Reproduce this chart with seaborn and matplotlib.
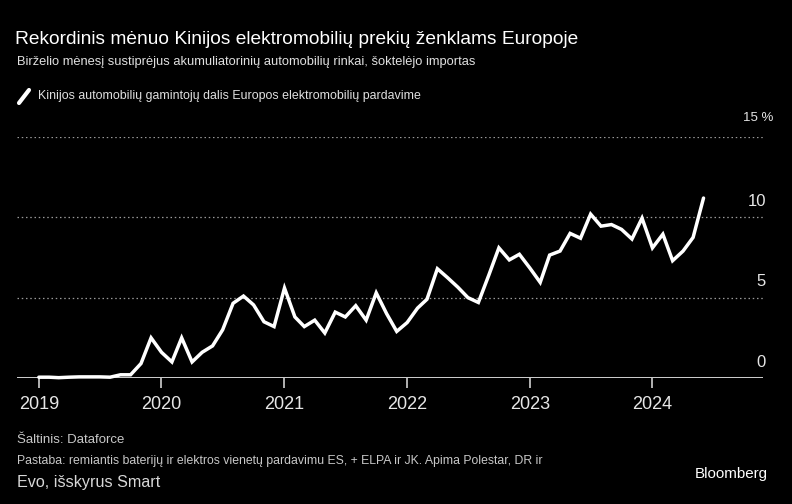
import pandas as pd
import matplotlib.pyplot as plt
import seaborn as sns
from matplotlib.lines import Line2D

# Monthly share (%) of Chinese brands in European EV sales, Jan 2019 - Jun 2024
share_2019 = [0.05, 0.05, 0.02, 0.05, 0.07, 0.07, 0.07, 0.05, 0.2, 0.2, 0.9, 2.5]
share_2020 = [1.6, 1.0, 2.5, 1.0, 1.6, 2.0, 3.0, 4.65, 5.1, 4.55, 3.5, 3.2]
share_2021 = [5.6, 3.8, 3.2, 3.6, 2.8, 4.1, 3.8, 4.5, 3.6, 5.3, 4.0, 2.9]
share_2022 = [3.45, 4.35, 4.9, 6.8, 6.25, 5.65, 5.0, 4.7, 6.4, 8.1, 7.35, 7.7]
share_2023 = [6.85, 5.95, 7.65, 7.9, 9.0, 8.7, 10.2, 9.45, 9.55, 9.25, 8.65, 9.95]
share_2024 = [8.1, 8.95, 7.3, 7.9, 8.75, 11.2]

months = pd.date_range("2019-01-01", "2024-06-01", freq="MS")
share = share_2019 + share_2020 + share_2021 + share_2022 + share_2023 + share_2024
df = pd.DataFrame({"month": months, "share": share})

year_ticks = ["2019", "2020", "2021", "2022", "2023", "2024"]
y_ticks = [0, 5, 10, 15]
y_labels = ["0", "5", "10", "15 %"]

title = "Rekordinis mėnuo Kinijos elektromobilių prekių ženklams Europoje"
subtitle = "Birželio mėnesį sustiprėjus akumuliatorinių automobilių rinkai, šoktelėjo importas"
legend_label = "Kinijos automobilių gamintojų dalis Europos elektromobilių pardavime"

sns.set_theme(style="dark")
plt.rcParams["font.family"] = ["Liberation Sans", "DejaVu Sans"]

fig = plt.figure(figsize=(7.92, 5.04), dpi=100, facecolor="black")
ax = fig.add_axes([17 / 792, 126 / 504, 746 / 792, 241 / 504])
ax.set_facecolor("black")

sns.lineplot(data=df, x="month", y="share", ax=ax, color="white",
             linewidth=2.5, clip_on=False, solid_joinstyle="miter")

ax.set_xlim(pd.Timestamp("2018-10-28"), pd.Timestamp("2024-11-25"))
ax.set_ylim(0, 15)

# dotted gridlines + solid baseline
for v in y_ticks[1:]:
    ax.axhline(v, color="#9a9a9a", linestyle=(0, (1.2, 2.2)), linewidth=0.9, zorder=0)
ax.axhline(0, color="#d0d0d0", linewidth=1.4, zorder=1)

for s in ax.spines.values():
    s.set_visible(False)
ax.grid(False)

ax.set_xticks([pd.Timestamp(y + "-01-01") for y in year_ticks])
ax.set_xticklabels(year_ticks)
ax.tick_params(axis="x", colors="#d0d0d0", length=7, width=1.2, direction="out",
               labelsize=13, labelcolor="#e6e6e6", pad=6, bottom=True)
ax.set_yticks([])
ax.set_xlabel("")
ax.set_ylabel("")

# right-hand value labels, sitting above the gridlines
for v, lab in zip(y_ticks[:-1], y_labels[:-1]):
    ax.annotate(lab, xy=(1.0, v), xycoords=("axes fraction", "data"),
                xytext=(2, 6), textcoords="offset points", ha="right", va="bottom",
                color="#e6e6e6", fontsize=12)
ax.annotate(y_labels[-1], xy=(1.0, y_ticks[-1]), xycoords=("axes fraction", "data"),
            xytext=(7.5, 9), textcoords="offset points", ha="right", va="bottom",
            color="#e6e6e6", fontsize=9.5)

# titles
fig.text(15 / 792, 1 - 40 / 504, title, color="white", fontsize=13.75, va="center")
fig.text(17 / 792, 1 - 62 / 504, subtitle, color="#e0e0e0", fontsize=9.3, va="center")

# legend
fig.add_artist(Line2D([19 / 792, 29 / 792], [1 - 103 / 504, 1 - 90 / 504],
                      color="white", linewidth=3, transform=fig.transFigure))
fig.text(38 / 792, 1 - 96 / 504, legend_label, color="#e0e0e0", fontsize=8.9, va="center")

# footer
fig.text(17 / 792, 1 - 440 / 504, "Šaltinis: Dataforce", color="#c8c8c8", fontsize=9.5, va="center")
fig.text(17 / 792, 1 - 461 / 504,
         "Pastaba: remiantis baterijų ir elektros vienetų pardavimu ES, + ELPA ir JK. Apima Polestar, DR ir",
         color="#c8c8c8", fontsize=8.8, va="center")
fig.text(17 / 792, 1 - 483 / 504, "Evo, išskyrus Smart", color="#d8d8d8", fontsize=11.6, va="center")
fig.text(768 / 792, 1 - 474 / 504, "Bloomberg", color="white", fontsize=10.9, va="center", ha="right")

fig.savefig("out.png", dpi=100, facecolor="black")
